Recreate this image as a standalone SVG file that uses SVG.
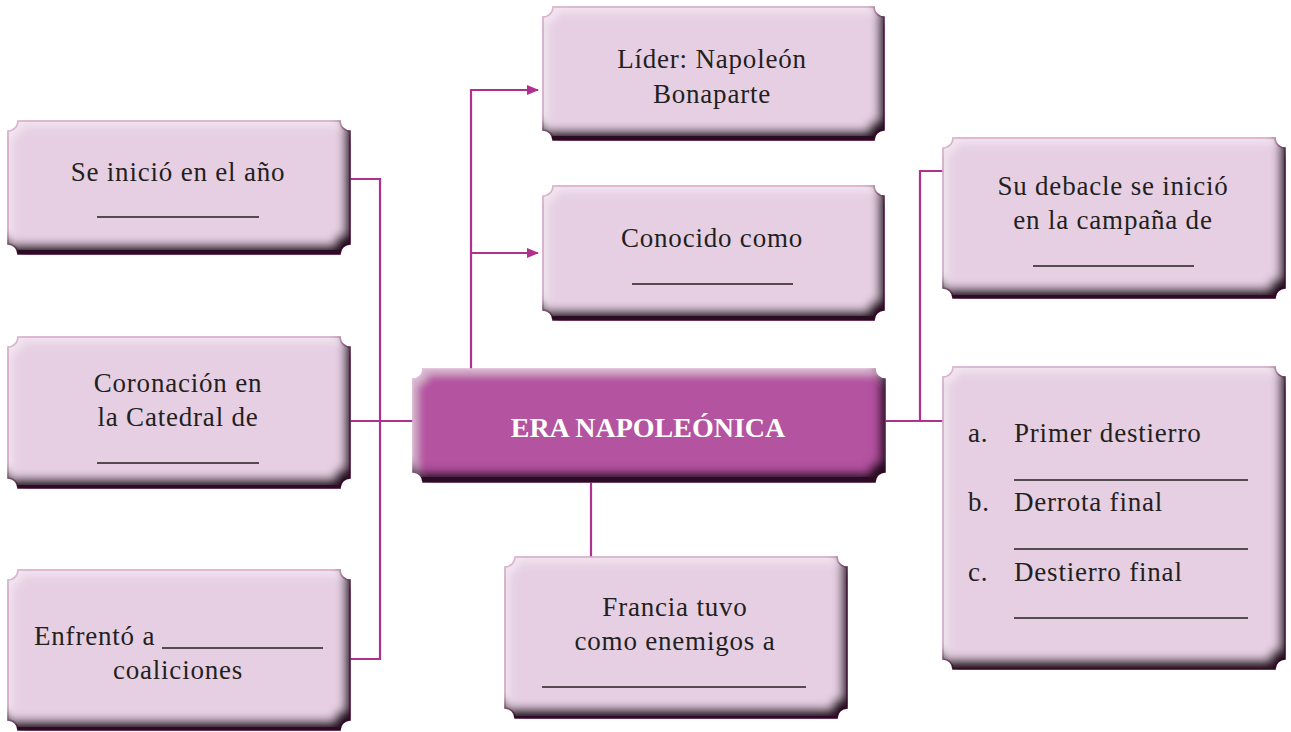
<svg xmlns="http://www.w3.org/2000/svg" width="1291" height="732" viewBox="0 0 1291 732">
<defs>
<style>
.box{fill:#e6cfe3;stroke:#b8449e;stroke-width:1.5}
.main{fill:#b453a0;stroke:#c76db3;stroke-width:1.5}
.t{font-family:"Liberation Serif","DejaVu Serif",serif;font-size:27px;letter-spacing:0.8px;fill:#231f20}
.c{text-anchor:middle}
.ul{stroke:#231f20;stroke-width:1.3}
.ln{fill:none;stroke:#b0308f;stroke-width:2.2}
.ttl{font-family:"Liberation Serif","DejaVu Serif",serif;font-size:28px;font-weight:bold;fill:#ffffff;text-anchor:middle}
</style>
<filter id="bevel" x="-5%" y="-5%" width="110%" height="110%">
<feGaussianBlur in="SourceAlpha" stdDeviation="4" result="b"/>
<feOffset in="b" dx="-7" dy="-11" result="o"/>
<feComposite in="SourceAlpha" in2="o" operator="out" result="edge"/>
<feFlood flood-color="#2a0c24" flood-opacity="1"/>
<feComposite in2="edge" operator="in" result="shadow"/>
<feOffset in="b" dx="5" dy="6" result="o2"/>
<feComposite in="SourceAlpha" in2="o2" operator="out" result="edge2"/>
<feFlood flood-color="#ffffff" flood-opacity="0.45"/>
<feComposite in2="edge2" operator="in" result="hl"/>
<feMerge><feMergeNode in="SourceGraphic"/><feMergeNode in="hl"/><feMergeNode in="shadow"/></feMerge>
</filter>
<marker id="ar" markerWidth="12" markerHeight="10" refX="11" refY="5" orient="auto" markerUnits="userSpaceOnUse">
<path d="M0,0 L12,5 L0,10 Z" fill="#b0308f"/>
</marker>
</defs>

<g id="connectors">
<path class="ln" d="M350,179 H380 V659 H350"/>
<path class="ln" d="M350,421 H413"/>
<path class="ln" d="M471,369 V90 H538" marker-end="url(#ar)"/>
<path class="ln" d="M471,253 H538" marker-end="url(#ar)"/>
<path class="ln" d="M885,421 H943"/>
<path class="ln" d="M920,421 V171 H943"/>
<path class="ln" d="M591,482 V557"/>
</g>

<g id="n-inicio">
<path class="box" filter="url(#bevel)" d="M18,121 H340 A10,10 0 0 0 350,131 V244 A10,10 0 0 0 340,254 H18 A10,10 0 0 0 8,244 V131 A10,10 0 0 0 18,121 Z"/>
<text class="t c" x="178" y="181">Se inició en el año</text>
<line class="ul" x1="97" y1="217" x2="259" y2="217"/>
</g>

<g id="n-coronacion">
<path class="box" filter="url(#bevel)" d="M18,337 H340 A10,10 0 0 0 350,347 V478 A10,10 0 0 0 340,488 H18 A10,10 0 0 0 8,478 V347 A10,10 0 0 0 18,337 Z"/>
<text class="t c" x="178" y="392">Coronación en</text>
<text class="t c" x="178" y="426">la Catedral de</text>
<line class="ul" x1="97" y1="463" x2="259" y2="463"/>
</g>

<g id="n-enfrento">
<path class="box" filter="url(#bevel)" d="M18,570 H340 A10,10 0 0 0 350,580 V720 A10,10 0 0 0 340,730 H18 A10,10 0 0 0 8,720 V580 A10,10 0 0 0 18,570 Z"/>
<text class="t" x="34" y="645">Enfrentó a</text>
<line class="ul" x1="162" y1="648" x2="323" y2="648"/>
<text class="t c" x="178" y="679">coaliciones</text>
</g>

<g id="n-era">
<path class="main" filter="url(#bevel)" d="M423,369 H875 A10,10 0 0 0 885,379 V472 A10,10 0 0 0 875,482 H423 A10,10 0 0 0 413,472 V379 A10,10 0 0 0 423,369 Z"/>
<text class="ttl" x="648" y="437">ERA NAPOLEÓNICA</text>
</g>

<g id="n-lider">
<path class="box" filter="url(#bevel)" d="M553,7 H874 A10,10 0 0 0 884,17 V130 A10,10 0 0 0 874,140 H553 A10,10 0 0 0 543,130 V17 A10,10 0 0 0 553,7 Z"/>
<text class="t c" x="712" y="68">Líder: Napoleón</text>
<text class="t c" x="712" y="103">Bonaparte</text>
</g>

<g id="n-conocido">
<path class="box" filter="url(#bevel)" d="M553,186 H874 A10,10 0 0 0 884,196 V310 A10,10 0 0 0 874,320 H553 A10,10 0 0 0 543,310 V196 A10,10 0 0 0 553,186 Z"/>
<text class="t c" x="712" y="247">Conocido como</text>
<line class="ul" x1="632" y1="284" x2="793" y2="284"/>
</g>

<g id="n-francia">
<path class="box" filter="url(#bevel)" d="M515,557 H837 A10,10 0 0 0 847,567 V708 A10,10 0 0 0 837,718 H515 A10,10 0 0 0 505,708 V567 A10,10 0 0 0 515,557 Z"/>
<text class="t c" x="675" y="616">Francia tuvo</text>
<text class="t c" x="675" y="650">como enemigos a</text>
<line class="ul" x1="542" y1="687" x2="806" y2="687"/>
</g>

<g id="n-debacle">
<path class="box" filter="url(#bevel)" d="M953,138 H1275 A10,10 0 0 0 1285,148 V288 A10,10 0 0 0 1275,298 H953 A10,10 0 0 0 943,288 V148 A10,10 0 0 0 953,138 Z"/>
<text class="t c" x="1113" y="195">Su debacle se inició</text>
<text class="t c" x="1113" y="229">en la campaña de</text>
<line class="ul" x1="1033" y1="266" x2="1194" y2="266"/>
</g>

<g id="n-lista">
<path class="box" filter="url(#bevel)" d="M953,367 H1275 A10,10 0 0 0 1285,377 V659 A10,10 0 0 0 1275,669 H953 A10,10 0 0 0 943,659 V377 A10,10 0 0 0 953,367 Z"/>
<text class="t" x="968" y="442">a.</text>
<text class="t" x="1014" y="442">Primer destierro</text>
<line class="ul" x1="1014" y1="480" x2="1248" y2="480"/>
<text class="t" x="968" y="511">b.</text>
<text class="t" x="1014" y="511">Derrota final</text>
<line class="ul" x1="1014" y1="549" x2="1248" y2="549"/>
<text class="t" x="968" y="581">c.</text>
<text class="t" x="1014" y="581">Destierro final</text>
<line class="ul" x1="1014" y1="618" x2="1248" y2="618"/>
</g>
</svg>
